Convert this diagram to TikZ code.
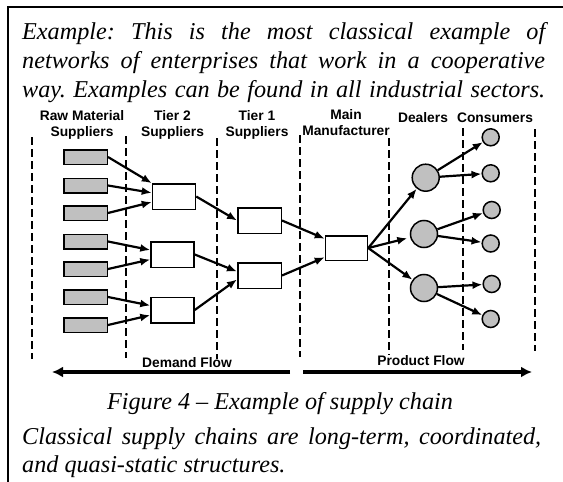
\documentclass[tikz,border=0pt]{standalone}
\usepackage{fontspec}
\setmainfont{Liberation Serif}
\setsansfont{Liberation Sans}
\usetikzlibrary{positioning,shapes,arrows.meta}
\definecolor{boxgray}{RGB}{192,192,192}
\frenchspacing

\begin{document}
\begin{tikzpicture}[x=1pt, y=-1pt,
		raw/.style={rectangle, draw, line width=1.5pt, fill=boxgray, minimum width=43.5pt, minimum height=14.5pt, inner sep=0},
		firm/.style={rectangle, draw, line width=1.5pt, fill=white, minimum width=43pt, minimum height=25.5pt, inner sep=0},
		dealer/.style={circle, draw, line width=1.5pt, fill=boxgray, minimum size=27pt, inner sep=0},
		buyer/.style={circle, draw, line width=1.5pt, fill=boxgray, minimum size=17pt, inner sep=0},
		link/.style={-{Latex[length=10pt,width=8pt]}, line width=2.2pt},
		bigflow/.style={-{Latex[length=11pt,width=11pt]}, line width=3.8pt},
		head/.style={font=\sffamily\bfseries\fontsize{13.8}{16}\selectfont, align=center, inner sep=0},
		para/.style={font=\itshape\fontsize{24.2}{29}\selectfont, inner sep=0, anchor=base west}]
		\useasboundingbox (0,0) rectangle (563,482);
		\draw[line width=2pt] (563,7) -- (7.5,7) -- (7.5,482);

		\node[para] (p1) at (22,39) {\hbox to 523pt{Example: This is the most classical example of}};
		\node[para] (p2) at (22,68) {\hbox to 523pt{networks of enterprises that work in a cooperative}};
		\node[para] (p3) at (22,97) {\hbox to 523pt{way. Examples can be found in all industrial sectors.}};

		\node[head] (hraw) at (82,125) {Raw Material\\Suppliers};
		\node[head] (htwo) at (172.5,125) {Tier 2\\Suppliers};
		\node[head] (hone) at (257,125) {Tier 1\\Suppliers};
		\node[head] (hman) at (346,123) {Main\\Manufacturer};
		\node[head] (hdeal) at (423,118) {Dealers};
		\node[head] (hcons) at (495,118) {Consumers};

		\foreach \x/\a/\b in {32/137/359, 126/136/358, 217/138/359, 300/135/357, 389/138/355, 463/128/350, 535/129/351}
			\draw[line width=2.2pt, dash pattern=on 8pt off 4pt] (\x,\a) -- (\x,\b);

		\begin{scope}
			\node[raw] (r1) at (85.5,157) {};
			\node[raw] (r2) at (85.5,185.5) {};
			\node[raw] (r3) at (85.5,213) {};
			\node[raw] (r4) at (85.5,241.5) {};
			\node[raw] (r5) at (85.5,269) {};
			\node[raw] (r6) at (85.5,297) {};
			\node[raw] (r7) at (85.5,325) {};
			\node[firm] (ta) at (174,196.5) {};
			\node[firm] (tb) at (172.5,254.5) {};
			\node[firm] (tc) at (172.5,310) {};
			\node[firm, minimum width=43.5pt] (oa) at (259.5,220.5) {};
			\node[firm, minimum width=43.5pt] (ob) at (259.5,275.5) {};
			\node[firm, minimum width=42pt, minimum height=24.5pt] (m) at (346.5,248) {};
			\node[dealer] (d1) at (425.7,177.7) {};
			\node[dealer] (d2) at (424,234) {};
			\node[dealer] (d3) at (424,288) {};
			\node[buyer] (c1) at (490.7,137.3) {};
			\node[buyer] (c2) at (490.7,173.3) {};
			\node[buyer] (c3) at (491.7,210) {};
			\node[buyer] (c4) at (490.7,243.5) {};
			\node[buyer] (c5) at (491.7,284) {};
			\node[buyer] (c6) at (490.7,319) {};
		\end{scope}
		\begin{scope}[every edge/.style={draw, link}]
			\path (r1.east) edge (ta);
			\path (r2.east) edge (ta);
			\path (r3.east) edge (ta);
			\path (r4.east) edge (tb);
			\path (r5.east) edge (tb);
			\path (r6.east) edge (tc);
			\path (r7.east) edge (tc);
			\path (ta.east) edge (oa.west);
			\path (tb.east) edge (ob.170);
			\path (tc.east) edge (ob.190);
			\path (oa.east) edge (m);
			\path (ob.east) edge (m);
			\path (m.east)
			edge (d1)
			edge[shorten >=3pt] (d2)
			edge (d3)
			;
			\path (d1)
			edge (c1)
			edge (c2)
			;
			\path (d2)
			edge (c3)
			edge (c4)
			;
			\path (d3)
			edge (c5)
			edge (c6)
			;
		\end{scope}

		\coordinate (dstart) at (290,372);
		\coordinate (dend) at (52,372);
		\coordinate (pstart) at (303,372);
		\coordinate (pend) at (532,372);
		\draw[bigflow] (dstart) -- (dend);
		\draw[bigflow] (pstart) -- (pend);
		\node[head] (dlab) at (187,363) {Demand Flow};
		\node[head] (plab) at (421,361) {Product Flow};

		\node[para, anchor=base] (cap) at (280,409) {Figure 4 -- Example of supply chain};
		\node[para] (q1) at (22,444) {\hbox to 519pt{Classical supply chains are long-term, coordinated,}};
		\node[para] (q2) at (22,472) {and quasi-static structures.};
	\end{tikzpicture}
\end{document}
